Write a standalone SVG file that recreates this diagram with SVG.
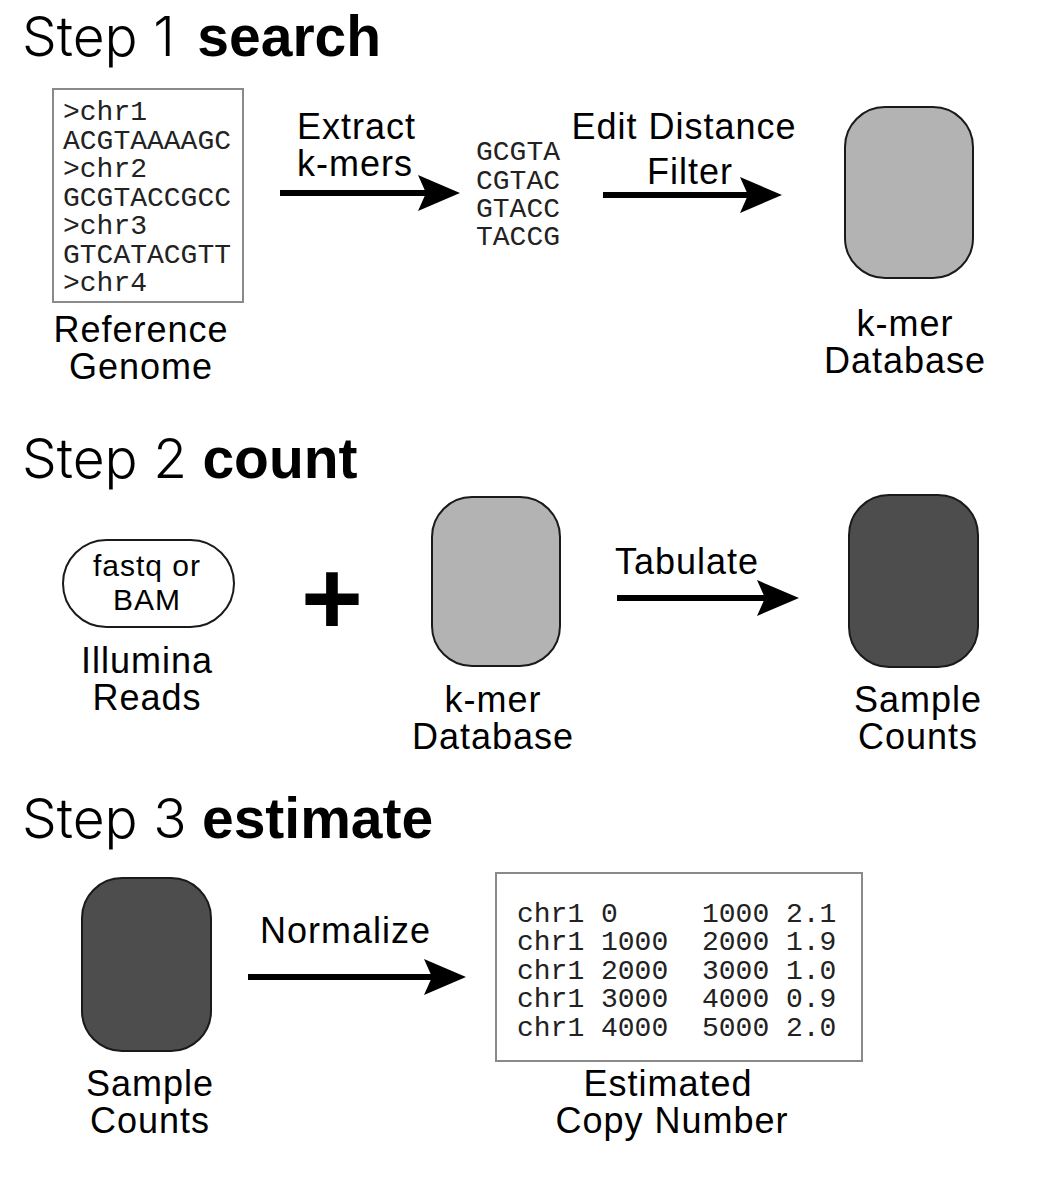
<svg xmlns="http://www.w3.org/2000/svg" width="1060" height="1200" viewBox="0 0 1060 1200">
<defs>
<style>
.title{font-family:"Liberation Sans",Arial,sans-serif;font-size:55px;fill:#000}
.light{font-family:Inter,"Liberation Sans",sans-serif;font-weight:300}
.bold{font-weight:bold;font-size:57px}
.lbl{font-family:"Liberation Sans",Arial,sans-serif;font-size:36px;letter-spacing:1px;fill:#000}
.small{font-family:"Liberation Sans",Arial,sans-serif;font-size:30px;letter-spacing:1px;fill:#000}
.mono{font-family:"Liberation Mono","Courier New",monospace;font-size:28px;fill:#222}
.box{fill:#fff;stroke:#8a8a8a;stroke-width:2}
.db{fill:#b3b3b3;stroke:#1a1a1a;stroke-width:2}
.cnt{fill:#4d4d4d;stroke:#1a1a1a;stroke-width:2}
.arrow{stroke:#000;stroke-width:6;fill:none;marker-end:url(#head)}
</style>
<marker id="head" markerUnits="userSpaceOnUse" markerWidth="44" markerHeight="38" refX="22" refY="18" orient="auto" viewBox="0 0 44 38">
<path d="M0,0 L42,18 L0,36 L8,18 Z" fill="#000"/>
</marker>
</defs>
<rect width="1060" height="1200" fill="#fff"/>

<g id="titles">
<text class="title" x="22" y="56"><tspan class="light">Step 1 </tspan><tspan class="bold" dx="7">search</tspan></text>
<text class="title" x="22" y="478"><tspan class="light">Step 2 </tspan><tspan class="bold">count</tspan></text>
<text class="title" x="22" y="838"><tspan class="light">Step 3 </tspan><tspan class="bold">estimate</tspan></text>
</g>

<g id="reference-genome">
<rect class="box" x="53" y="89" width="190" height="213"/>
<text class="mono" x="63" y="120">&gt;chr1</text>
<text class="mono" x="63" y="148.5">ACGTAAAAGC</text>
<text class="mono" x="63" y="177">&gt;chr2</text>
<text class="mono" x="63" y="205.5">GCGTACCGCC</text>
<text class="mono" x="63" y="234">&gt;chr3</text>
<text class="mono" x="63" y="262.5">GTCATACGTT</text>
<text class="mono" x="63" y="291">&gt;chr4</text>
<text class="lbl" x="141" y="342" text-anchor="middle">Reference</text>
<text class="lbl" x="141" y="379" text-anchor="middle">Genome</text>
</g>

<g id="kmers">
<text class="mono" x="476" y="160">GCGTA</text>
<text class="mono" x="476" y="189">CGTAC</text>
<text class="mono" x="476" y="217">GTACC</text>
<text class="mono" x="476" y="245">TACCG</text>
</g>

<g id="kmer-db-1">
<rect class="db" x="845" y="107" width="128" height="171" rx="40" ry="40"/>
<text class="lbl" x="905" y="336" text-anchor="middle">k-mer</text>
<text class="lbl" x="905" y="373" text-anchor="middle">Database</text>
</g>

<g id="illumina-reads">
<rect x="63" y="540" width="171" height="87" rx="43.5" ry="43.5" fill="#fff" stroke="#1a1a1a" stroke-width="2"/>
<text class="small" x="147" y="576" text-anchor="middle">fastq or</text>
<text class="small" x="147" y="610" text-anchor="middle">BAM</text>
<text class="lbl" x="147" y="673" text-anchor="middle">Illumina</text>
<text class="lbl" x="147" y="710" text-anchor="middle">Reads</text>
</g>

<g id="plus">
<text x="332" y="634" text-anchor="middle" font-family="Liberation Sans, Arial, sans-serif" font-weight="bold" font-size="106">+</text>
</g>

<g id="kmer-db-2">
<rect class="db" x="432" y="497" width="128" height="169" rx="40" ry="40"/>
<text class="lbl" x="493" y="712" text-anchor="middle">k-mer</text>
<text class="lbl" x="493" y="749" text-anchor="middle">Database</text>
</g>

<g id="sample-counts-1">
<rect class="cnt" x="849" y="495" width="129" height="172" rx="40" ry="40"/>
<text class="lbl" x="918" y="712" text-anchor="middle">Sample</text>
<text class="lbl" x="918" y="749" text-anchor="middle">Counts</text>
</g>

<g id="sample-counts-2">
<rect class="cnt" x="82" y="878" width="129" height="173" rx="40" ry="40"/>
<text class="lbl" x="150" y="1096" text-anchor="middle">Sample</text>
<text class="lbl" x="150" y="1133" text-anchor="middle">Counts</text>
</g>

<g id="copy-number">
<rect class="box" x="496" y="873" width="366" height="188"/>
<g class="mono">
<text x="517" y="922">chr1</text><text x="601" y="922">0</text><text x="702" y="922">1000</text><text x="786" y="922">2.1</text>
<text x="517" y="950">chr1</text><text x="601" y="950">1000</text><text x="702" y="950">2000</text><text x="786" y="950">1.9</text>
<text x="517" y="979">chr1</text><text x="601" y="979">2000</text><text x="702" y="979">3000</text><text x="786" y="979">1.0</text>
<text x="517" y="1007">chr1</text><text x="601" y="1007">3000</text><text x="702" y="1007">4000</text><text x="786" y="1007">0.9</text>
<text x="517" y="1036">chr1</text><text x="601" y="1036">4000</text><text x="702" y="1036">5000</text><text x="786" y="1036">2.0</text>
</g>
<text class="lbl" x="668" y="1096" text-anchor="middle">Estimated</text>
<text class="lbl" x="672" y="1133" text-anchor="middle">Copy Number</text>
</g>

<g id="connectors">
<line class="arrow" x1="280" y1="193" x2="440" y2="193"/>
<text class="lbl" x="297" y="139">Extract</text>
<text class="lbl" x="297" y="176">k-mers</text>
<line class="arrow" x1="603" y1="195" x2="762" y2="195"/>
<text class="lbl" x="684" y="139" text-anchor="middle">Edit Distance</text>
<text class="lbl" x="690" y="184" text-anchor="middle">Filter</text>
<line class="arrow" x1="617" y1="598" x2="779" y2="598"/>
<text class="lbl" x="615" y="574">Tabulate</text>
<line class="arrow" x1="248" y1="977" x2="446" y2="977"/>
<text class="lbl" x="260" y="943">Normalize</text>
</g>
</svg>
